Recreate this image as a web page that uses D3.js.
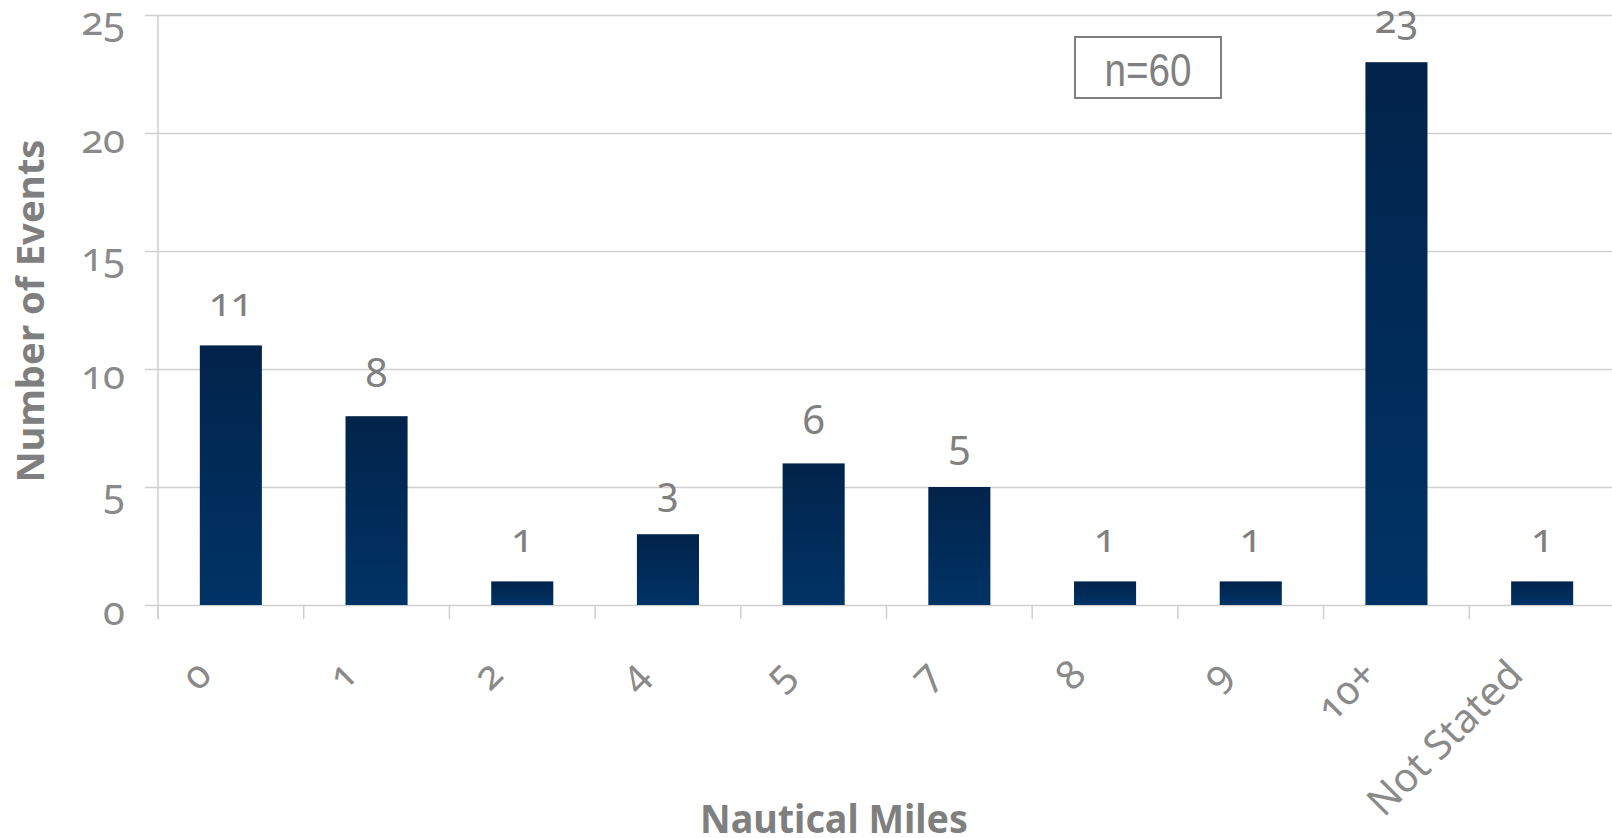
<!DOCTYPE html>
<html>
<head>
<meta charset="utf-8">
<script src="https://cdn.jsdelivr.net/npm/d3@7"></script>
<style>
  html, body { margin: 0; padding: 0; background: #fff; }
  svg { display: block; }
  .num { font-family: "Noto Sans", "Open Sans", sans-serif; font-variant-numeric: oldstyle-nums; font-feature-settings: "onum" 1; }
</style>
</head>
<body>
<svg id="chart" width="1612" height="838"></svg>
<script>
// Distance categories (nautical miles) and number of events in each
const categories = ["0", "1", "2", "4", "5", "7", "8", "9", "10+", "Not Stated"];
const events = [11, 8, 1, 3, 6, 5, 1, 1, 23, 1];
const yTicks = [0, 5, 10, 15, 20, 25];
const totalLabel = "n=60";
const xTitle = "Nautical Miles";
const yTitle = "Number of Events";

const W = 1612, H = 838;
const plot = { left: 158, right: 1615, top: 15, bottom: 605 };

const svg = d3.select("#chart");

const x = d3.scaleBand()
  .domain(categories)
  .range([plot.left, plot.right])
  .paddingInner(0.574)
  .paddingOuter(0.287);

const y = d3.scaleLinear()
  .domain([0, 25])
  .range([plot.bottom, plot.top]);

// Bar fill: darker navy at the top fading to a lighter navy at the base
const defs = svg.append("defs");
const grad = defs.append("linearGradient")
  .attr("id", "barFill")
  .attr("x1", 0).attr("y1", 0).attr("x2", 0).attr("y2", 1);
grad.append("stop").attr("offset", "0%").attr("stop-color", "#02234a");
grad.append("stop").attr("offset", "100%").attr("stop-color", "#003366");

// Horizontal gridlines with short ticks left of the value axis
const yAxis = d3.axisLeft(y)
  .tickValues(yTicks)
  .tickSize(-(W - plot.left))
  .tickPadding(0)
  .tickFormat("");
const gy = svg.append("g")
  .attr("transform", `translate(${plot.left},0)`)
  .call(yAxis);
gy.select(".domain").remove();
gy.selectAll(".tick line")
  .attr("x1", -13)
  .attr("stroke", "#d0d0d0")
  .attr("stroke-width", 1.5);

// Value axis tick labels
svg.append("g").selectAll("text")
  .data(yTicks)
  .join("text")
  .attr("class", "num")
  .attr("x", plot.left - 33)
  .attr("y", d => y(d) + 20)
  .attr("text-anchor", "end")
  .attr("fill", "#8a8a8a")
  .attr("font-size", 40)
  .text(d => d);

// Vertical axis line
svg.append("line")
  .attr("x1", plot.left).attr("x2", plot.left)
  .attr("y1", plot.top).attr("y2", plot.bottom + 14)
  .attr("stroke", "#cfcfcf").attr("stroke-width", 1.5);

// Category tick marks at band boundaries
const halfGap = (x.step() - x.bandwidth()) / 2;
const boundaries = categories.map(c => x(c) - halfGap);
svg.append("g").selectAll("line")
  .data(boundaries)
  .join("line")
  .attr("x1", d => d).attr("x2", d => d)
  .attr("y1", plot.bottom).attr("y2", plot.bottom + 14)
  .attr("stroke", "#cfcfcf").attr("stroke-width", 1.5);

// Bars
svg.append("g").selectAll("rect")
  .data(categories)
  .join("rect")
  .attr("x", c => x(c))
  .attr("y", (c, i) => y(events[i]))
  .attr("width", x.bandwidth())
  .attr("height", (c, i) => y(0) - y(events[i]))
  .attr("fill", "url(#barFill)");

// Value labels above bars
svg.append("g").selectAll("text")
  .data(categories)
  .join("text")
  .attr("class", "num")
  .attr("x", c => x(c) + x.bandwidth() / 2)
  .attr("y", (c, i) => y(events[i]) - 29)
  .attr("text-anchor", "middle")
  .attr("fill", "#808080")
  .attr("font-size", 40)
  .text((c, i) => events[i]);

// Rotated category labels
svg.append("g").selectAll("text")
  .data(categories)
  .join("text")
  .attr("class", "num")
  .attr("text-anchor", "end")
  .attr("fill", "#8a8a8a")
  .attr("font-size", 40)
  .attr("transform", c => `translate(${x(c) + x.bandwidth() / 2 - 17},677) rotate(-45)`)
  .text(c => c);

// Axis titles
svg.append("text")
  .attr("x", 834)
  .attr("y", 833)
  .attr("text-anchor", "middle")
  .attr("font-family", "'Noto Sans', 'Open Sans', sans-serif")
  .attr("font-weight", "bold")
  .attr("font-size", 40)
  .attr("fill", "#7f7f7f")
  .attr("textLength", 268)
  .attr("lengthAdjust", "spacingAndGlyphs")
  .text(xTitle);

svg.append("text")
  .attr("transform", "translate(44,311) rotate(-90)")
  .attr("text-anchor", "middle")
  .attr("font-family", "'Noto Sans', 'Open Sans', sans-serif")
  .attr("font-weight", "bold")
  .attr("font-size", 38)
  .attr("fill", "#7f7f7f")
  .attr("textLength", 343)
  .attr("lengthAdjust", "spacingAndGlyphs")
  .text(yTitle);

// Sample size box
svg.append("rect")
  .attr("x", 1075).attr("y", 37)
  .attr("width", 146).attr("height", 61)
  .attr("fill", "#fff")
  .attr("stroke", "#808080")
  .attr("stroke-width", 2);
svg.append("text")
  .attr("x", 1148).attr("y", 86)
  .attr("text-anchor", "middle")
  .attr("font-family", "'Liberation Sans Narrow', 'Liberation Sans', sans-serif")
  .attr("font-size", 47)
  .attr("fill", "#808080")
  .attr("textLength", 87)
  .attr("lengthAdjust", "spacingAndGlyphs")
  .text(totalLabel);
</script>
</body>
</html>
